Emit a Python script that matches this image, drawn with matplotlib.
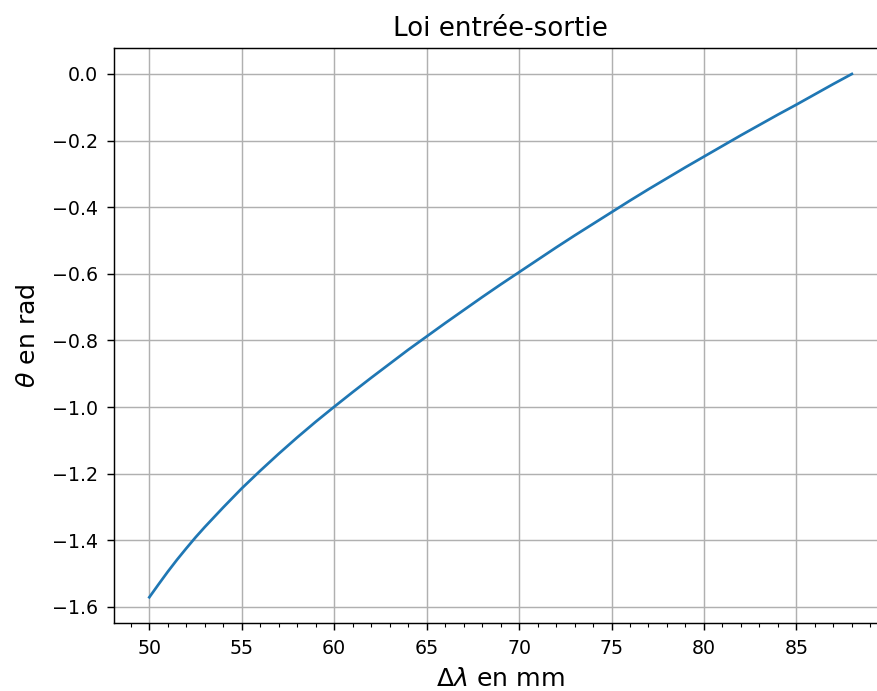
import numpy as np
import matplotlib
matplotlib.use('Agg')

import matplotlib.pyplot as plt
from matplotlib.ticker import MultipleLocator

# Delta lambda (mm) and theta (rad)
dlambda = [50, 50.5, 51, 51.5, 52, 52.5, 53, 54, 55, 56, 57, 58, 59, 60,
           61, 62, 63, 64, 65, 66, 67, 68, 69, 70,
           71, 72, 73, 74, 75, 76, 77, 78, 79, 80,
           81, 82, 83, 84, 85, 86, 87, 88]
theta = [-1.5708, -1.532, -1.494, -1.458, -1.424, -1.391, -1.360, -1.301, -1.244,
         -1.191, -1.140, -1.091, -1.044, -0.999,
         -0.955, -0.912, -0.870, -0.828, -0.788, -0.748, -0.709, -0.670, -0.632, -0.595,
         -0.558, -0.521, -0.485, -0.450, -0.415, -0.380, -0.346, -0.313, -0.280, -0.248,
         -0.216, -0.184, -0.153, -0.122, -0.092, -0.061, -0.030, 0.0]


def main():
    fig = plt.figure(figsize=(877 / 130, 691 / 130), dpi=130)
    ax = fig.add_axes([0.1302, 0.0978, 0.8812, 0.833])

    ax.plot(dlambda, theta, color='#1f77b4', linewidth=1.5)

    ax.set_title("Loi entrée-sortie", fontsize=14.5, pad=6.5)
    ax.set_xlabel(r"$\Delta\lambda$ en mm", fontsize=14, labelpad=5)
    ax.set_ylabel(r"$\theta$ en rad", fontsize=14, labelpad=7)
    ax.xaxis.set_minor_locator(MultipleLocator(1))
    ax.tick_params(which='major', length=3.9, pad=4.8, labelsize=10.5)
    ax.tick_params(which='minor', length=2.2)
    ax.grid(True)

    fig.savefig("out.png", dpi=130)


if __name__ == "__main__":
    main()
